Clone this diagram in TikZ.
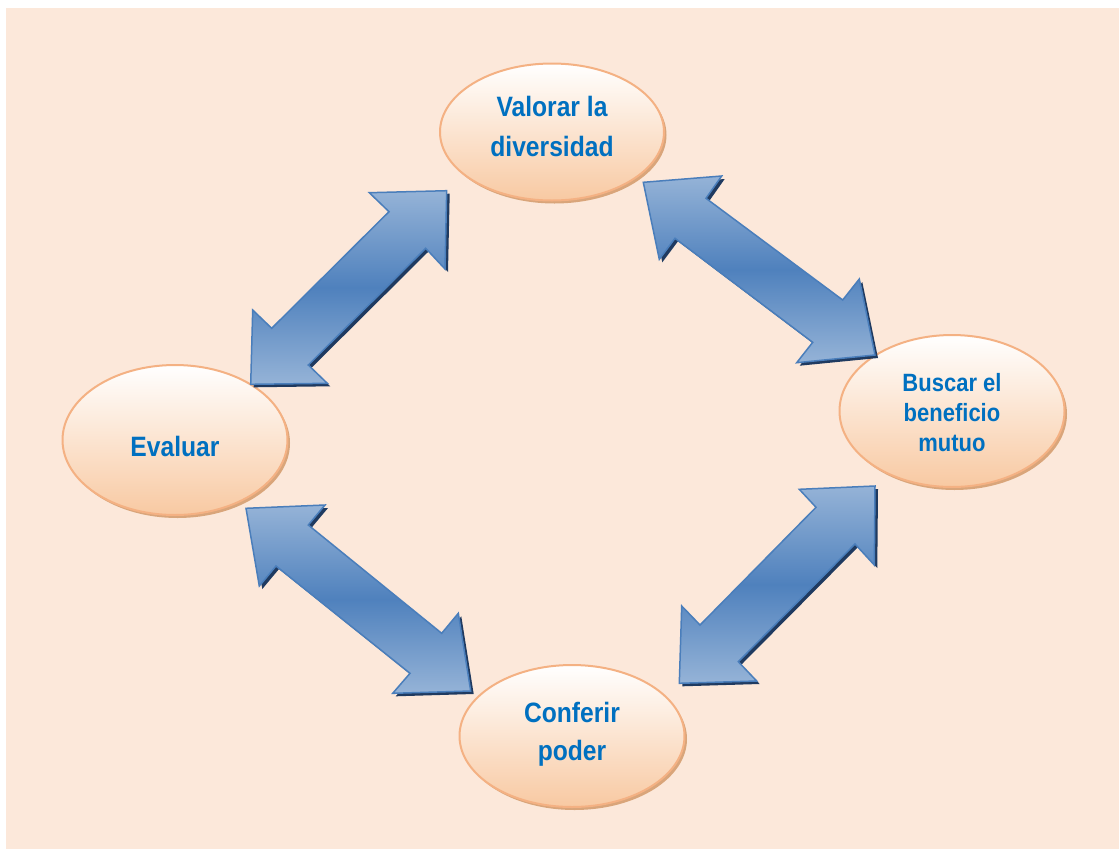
\documentclass[tikz,border=0pt]{standalone}
\usepackage{fontspec}
\setmainfont{Liberation Sans}[FakeStretch=0.88]
\usetikzlibrary{shapes.geometric,shadows}
\definecolor{bgpeach}{HTML}{FCE8DA}
\definecolor{ellborder}{HTML}{F4B183}
\definecolor{ellbottom}{HTML}{F8C9A2}
\definecolor{ellshadow}{HTML}{D9A57A}
\definecolor{txtblue}{HTML}{0070C0}
\definecolor{arrlight}{HTML}{95B3D7}
\definecolor{arrdark}{HTML}{4F81BD}
\definecolor{arredge}{HTML}{4A7EBB}
\definecolor{arrshadow}{HTML}{1F3A60}
\newcommand{\liftlines}[2]{\raisebox{#1}[\height][\depth]{\begin{tabular}{@{}c@{}}#2\end{tabular}}}
\begin{document}
\begin{tikzpicture}[x=1pt,y=-1pt,
  bubble/.style={ellipse, draw=ellborder, line width=2pt, top color=white,
    bottom color=ellbottom, inner sep=0pt, align=center, text=txtblue,
    font=\bfseries\fontsize{28}{40}\selectfont,
    drop shadow={shadow xshift=2.5pt, shadow yshift=-3pt, fill=ellshadow, opacity=1}},
  blockarrow/.style={draw=arredge, line width=1.5pt, line join=miter,
    top color=arrlight, bottom color=arrlight, middle color=arrdark,
    drop shadow={shadow xshift=3pt, shadow yshift=-3pt, fill=arrshadow, opacity=1}}
]
\useasboundingbox (0,0) rectangle (1119,849);
\fill[white] (0,0) rectangle (1119,849);
\fill[bgpeach] (6,8) rectangle (1119,849);

\node[bubble, minimum width=224pt, minimum height=137pt] (valorar) at (552,132) {\liftlines{4pt}{Valorar la\\diversidad}};
\node[bubble, minimum width=225pt, minimum height=150pt] (evaluar) at (175,440) {\liftlines{-8pt}{Evaluar}};
\node[bubble, minimum width=225pt, minimum height=152pt, font=\bfseries\fontsize{25}{30}\selectfont] (buscar) at (952,411) {\liftlines{-4pt}{Buscar el\\beneficio\\mutuo}};
\node[bubble, minimum width=225pt, minimum height=142pt, font=\bfseries\fontsize{28}{38}\selectfont] (conferir) at (572,736) {\liftlines{2pt}{Conferir\\poder}};

% Evaluar <-> Valorar
\path[blockarrow] (446.7,190.7) -- (445,269) -- (425.7,248.3) -- (308.3,365) -- (327.3,383.3)
  -- (250.7,384.3) -- (252.7,310) -- (271.7,328.3) -- (389,211.7) -- (369.3,192.7) -- cycle;
% Valorar <-> Buscar
\path[blockarrow] (643.3,182.3) -- (721.7,176) -- (706,198.3) -- (842.7,300) -- (859.3,279)
  -- (875,355) -- (796.7,362.7) -- (812.7,342.3) -- (675,238.3) -- (659.3,259.3) -- cycle;
% Evaluar <-> Conferir
\path[blockarrow] (246,508.3) -- (325,505) -- (308.3,525) -- (441.7,633.3) -- (458.3,613.3)
  -- (470.7,691) -- (392.7,693.3) -- (410,673.3) -- (276,566) -- (259.3,586) -- cycle;
% Buscar <-> Conferir
\path[blockarrow] (875,486) -- (874.3,565) -- (855,544) -- (738.3,661.7) -- (756.7,681)
  -- (679.3,683.3) -- (681.7,606) -- (700,625) -- (816,507.3) -- (799.3,489.3) -- cycle;
\end{tikzpicture}
\end{document}
